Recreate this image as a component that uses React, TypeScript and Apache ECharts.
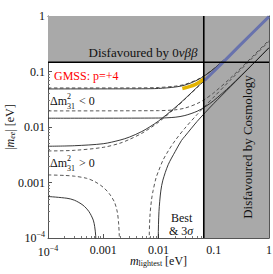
import React, { useEffect, useRef } from 'react';
import * as echarts from 'echarts';

// axis ranges and tick labels
const X_MIN = 1e-4;
const X_MAX = 1;
const Y_MIN = 1e-4;
const Y_MAX = 1;
const TICK_VALUES = [1e-4, 0.001, 0.01, 0.1, 1];
const TICK_LABELS = ['10{sup|−4}', '0.001', '0.01', '0.1', '1'];

// bounds
const BOUND_0NUBB = 0.147;
const BOUND_COSMO = 0.066;

// Δm²31 < 0 (inverted), upper edges
const ioUpperBest: [number, number][] = [[1e-4, 0.0505], [0.005, 0.0507], [0.01, 0.0515], [0.02, 0.0544], [0.03, 0.0586], [0.05, 0.0712], [0.07, 0.0865], [0.1, 0.1122], [0.2, 0.206], [0.5, 0.502], [1, 1.0]];
const ioUpper3s: [number, number][] = [[1e-4, 0.0485], [0.005, 0.0488], [0.01, 0.0495], [0.02, 0.0525], [0.03, 0.0568], [0.05, 0.0698], [0.07, 0.0853], [0.1, 0.1112], [0.2, 0.2055], [0.5, 0.502], [1, 1.0]];
// inverted, lower edges
const ioLowerBest: [number, number][] = [[1e-4, 0.0195], [0.01, 0.0197], [0.02, 0.0204], [0.03, 0.0219], [0.05, 0.0264], [0.07, 0.0319], [0.1, 0.0413], [0.2, 0.0759], [0.5, 0.185], [1, 0.3685]];
const ioLower3s: [number, number][] = [[1e-4, 0.0144], [0.01, 0.0145], [0.02, 0.015], [0.03, 0.0161], [0.05, 0.0192], [0.07, 0.0232], [0.1, 0.0299], [0.2, 0.0549], [0.5, 0.1337], [1, 0.266]];

// Δm²31 > 0 (normal), upper edges
const noUpperBest: [number, number][] = [[1e-4, 0.0037], [3e-4, 0.0038], [0.001, 0.0043], [0.002, 0.0051], [0.003, 0.006], [0.005, 0.0077], [0.007, 0.0095], [0.01, 0.0122], [0.02, 0.0217], [0.03, 0.0316], [0.05, 0.0515], [0.07, 0.0713], [0.1, 0.101], [0.3, 0.3], [1, 1.0]];
const noUpper3s: [number, number][] = [[1e-4, 0.0045], [3e-4, 0.0046], [0.001, 0.005], [0.002, 0.0058], [0.003, 0.0066], [0.005, 0.0083], [0.007, 0.0101], [0.01, 0.0128], [0.02, 0.0224], [0.03, 0.0322], [0.05, 0.052], [0.07, 0.0718], [0.1, 0.1015], [0.3, 0.301], [1, 1.0]];
// normal, lower edges (funnel): left and right branches
const noLowerBestL: [number, number][] = [[1e-4, 0.00137], [2e-4, 0.00134], [3e-4, 0.0013], [5e-4, 0.00119], [7e-4, 0.00104], [0.001, 0.00082], [0.0013, 0.00062], [0.0016, 0.00044], [0.0018, 0.00029], [0.0019, 0.00018], [0.00195, 0.00011], [0.002, 0.00004], [0.00201, 0.000001]];
const noLowerBestR: [number, number][] = [[0.0067, 0.000001], [0.0068, 0.0001], [0.007, 0.00025], [0.0075, 0.0005], [0.008, 0.00072], [0.009, 0.0012], [0.01, 0.0016], [0.012, 0.0025], [0.015, 0.0037], [0.02, 0.0057], [0.03, 0.0095], [0.05, 0.0168], [0.07, 0.024], [0.1, 0.0346], [0.2, 0.07], [0.5, 0.175], [1, 0.35]];
const noLower3sL: [number, number][] = [[1e-4, 0.00056], [2.2e-4, 0.00052], [3e-4, 0.00048], [4.3e-4, 0.00039], [5.5e-4, 0.0003], [6.6e-4, 0.00021], [7e-4, 0.00016], [7.3e-4, 0.00011], [7.4e-4, 0.00006], [7.45e-4, 0.000001]];
const noLower3sR: [number, number][] = [[0.0098, 0.000001], [0.0099, 0.0001], [0.0102, 0.0003], [0.011, 0.0007], [0.012, 0.0011], [0.015, 0.0021], [0.02, 0.0036], [0.026, 0.0057], [0.03, 0.0068], [0.05, 0.0126], [0.07, 0.0182], [0.1, 0.0265], [0.2, 0.053], [0.5, 0.133], [1, 0.269]];

// GMSS p=+4 prediction
const gmssAllowed: [number, number][] = [[0.027, 0.0495], [0.035, 0.0528], [0.046, 0.0578], [0.058, 0.0665], [0.072, 0.077]];
const gmssExcluded: [number, number][] = [[0.068, 0.069], [0.1, 0.1], [0.3, 0.298], [1, 0.975]];

const SERIF = "'Liberation Serif', 'Times New Roman', serif";

export default function App() {
  const ref = useRef<HTMLDivElement>(null);
  useEffect(() => {
    if (!ref.current) return;
    const chart = echarts.init(ref.current, undefined, { renderer: 'svg' });
    const solid = (data: [number, number][], name: string) => ({
      type: 'line', name, data, showSymbol: false, symbol: 'none', smooth: 0.3, z: 3,
      lineStyle: { color: '#222', width: 0.9 }, silent: true,
    });
    const dashed = (data: [number, number][], name: string) => ({
      type: 'line', name, data, showSymbol: false, symbol: 'none', smooth: 0.3, z: 3,
      lineStyle: { color: '#444', width: 0.9, type: [3.5, 2.5] }, silent: true,
    });
    const tickFmt = (v: number) => {
      const i = TICK_VALUES.findIndex((t) => Math.abs(Math.log10(t) - Math.log10(v)) < 1e-6);
      return i >= 0 ? TICK_LABELS[i] : '';
    };
    const axisCommon = {
      type: 'log', logBase: 10,
      axisLine: { show: true, lineStyle: { color: '#555', width: 1 } },
      axisTick: { show: true, inside: true, length: 4, lineStyle: { color: '#555' } },
      minorTick: { show: true, splitNumber: 9, length: 2, lineStyle: { color: '#777' } },
      splitLine: { show: false },
    };
    const labelStyle = {
      fontFamily: SERIF, fontSize: 12, color: '#111',
      rich: { sup: { fontSize: 8, fontFamily: SERIF, color: '#111', padding: [0, 0, 7, 0] } },
    };
    chart.setOption({
      animation: false,
      grid: { left: 48, right: 4, top: 16, bottom: 36, containLabel: false, outerBoundsMode: 'none' },
      xAxis: [
        {
          ...axisCommon, min: X_MIN, max: X_MAX, position: 'bottom',
          axisLabel: { ...labelStyle, formatter: tickFmt, margin: 6 },
          name: '{i|m}{sub|lightest} [eV]', nameLocation: 'middle', nameGap: 16, nameMoveOverlap: false,
          nameTextStyle: {
            fontFamily: SERIF, fontSize: 12, color: '#111',
            rich: {
              i: { fontFamily: SERIF, fontStyle: 'italic', fontSize: 12, color: '#111' },
              sub: { fontFamily: SERIF, fontSize: 8, color: '#111', padding: [5, 0, 0, 0] },
            },
          },
        },
        { ...axisCommon, min: X_MIN, max: X_MAX, position: 'top', axisLabel: { show: false } },
      ],
      yAxis: [
        {
          ...axisCommon, min: Y_MIN, max: Y_MAX, position: 'left',
          axisLabel: { ...labelStyle, formatter: tickFmt, margin: 3 },
          name: '|{i|m}{sub|ee}| [eV]', nameLocation: 'middle', nameGap: 32, nameRotate: 90, nameMoveOverlap: false,
          nameTextStyle: {
            fontFamily: SERIF, fontSize: 12, color: '#111',
            rich: {
              i: { fontFamily: SERIF, fontStyle: 'italic', fontSize: 12, color: '#111' },
              sub: { fontFamily: SERIF, fontStyle: 'italic', fontSize: 8, color: '#111', padding: [5, 0, 0, 0] },
            },
          },
        },
        { ...axisCommon, min: Y_MIN, max: Y_MAX, position: 'right', axisLabel: { show: false } },
      ],
      series: [
        {
          type: 'line', data: [], z: 1, silent: true,
          markArea: {
            silent: true,
            itemStyle: { color: '#a9a9a9', opacity: 1 },
            data: [
              [{ coord: [X_MIN, BOUND_0NUBB] }, { coord: [X_MAX, Y_MAX] }],
              [{ coord: [BOUND_COSMO, Y_MIN] }, { coord: [X_MAX, Y_MAX] }],
            ],
          },
        },
        dashed(ioUpperBest, 'ioUB'),
        solid(ioUpper3s, 'ioU3'),
        dashed(ioLowerBest, 'ioLB'),
        solid(ioLower3s, 'ioL3'),
        dashed(noUpperBest, 'noUB'),
        solid(noUpper3s, 'noU3'),
        dashed(noLowerBestL, 'noLBL'),
        dashed(noLowerBestR, 'noLBR'),
        solid(noLower3sL, 'noL3L'),
        solid(noLower3sR, 'noL3R'),
        {
          type: 'line', data: gmssAllowed, showSymbol: false, symbol: 'none', smooth: 0.3, z: 4, silent: true,
          lineStyle: { color: '#e3b300', width: 3.5 },
        },
        {
          type: 'line', data: gmssExcluded, showSymbol: false, symbol: 'none', smooth: 0.3, z: 4, silent: true,
          lineStyle: { color: '#6872ad', width: 3 },
        },
        {
          type: 'line', data: [[X_MIN, BOUND_0NUBB], [X_MAX, BOUND_0NUBB]], showSymbol: false, symbol: 'none', z: 5, silent: true,
          lineStyle: { color: '#000', width: 1.6 },
        },
        {
          type: 'line', data: [[BOUND_COSMO, Y_MIN], [BOUND_COSMO, Y_MAX]], showSymbol: false, symbol: 'none', z: 5, silent: true,
          lineStyle: { color: '#000', width: 1.6 },
        },
      ],
      graphic: [
        {
          type: 'text', x: 143, y: 52, z: 10,
          style: {
            text: 'Disfavoured by 0{i|νββ}', fontFamily: SERIF, fontSize: 13, fill: '#111',
            align: 'center', verticalAlign: 'middle',
            rich: { i: { fontFamily: SERIF, fontStyle: 'italic', fontSize: 13, fill: '#111' } },
          },
        },
        {
          type: 'text', x: 54, y: 76, z: 10,
          style: { text: 'GMSS: p=+4', fontFamily: SERIF, fontSize: 12, fill: '#ff0000', align: 'left', verticalAlign: 'middle' },
        },
        {
          type: 'group', x: 50, y: 101, z: 10,
          children: [
            { type: 'text', x: 0, y: 0, style: { text: 'Δm', fontFamily: SERIF, fontSize: 12, fill: '#111', verticalAlign: 'middle' } },
            { type: 'text', x: 17, y: -5, style: { text: '2', fontFamily: SERIF, fontSize: 8, fill: '#111', verticalAlign: 'middle' } },
            { type: 'text', x: 17, y: 5, style: { text: '31', fontFamily: SERIF, fontSize: 8, fill: '#111', verticalAlign: 'middle' } },
            { type: 'text', x: 29, y: 0, style: { text: '< 0', fontFamily: SERIF, fontSize: 12, fill: '#111', verticalAlign: 'middle' } },
          ],
        },
        {
          type: 'group', x: 50, y: 163, z: 10,
          children: [
            { type: 'text', x: 0, y: 0, style: { text: 'Δm', fontFamily: SERIF, fontSize: 12, fill: '#111', verticalAlign: 'middle' } },
            { type: 'text', x: 17, y: -5, style: { text: '2', fontFamily: SERIF, fontSize: 8, fill: '#111', verticalAlign: 'middle' } },
            { type: 'text', x: 17, y: 5, style: { text: '31', fontFamily: SERIF, fontSize: 8, fill: '#111', verticalAlign: 'middle' } },
            { type: 'text', x: 29, y: 0, style: { text: '> 0', fontFamily: SERIF, fontSize: 12, fill: '#111', verticalAlign: 'middle' } },
          ],
        },
        {
          type: 'text', x: 171, y: 218, z: 10,
          style: { text: 'Best', fontFamily: SERIF, fontSize: 12, fill: '#111', align: 'left', verticalAlign: 'middle' },
        },
        {
          type: 'text', x: 169, y: 231, z: 10,
          style: {
            text: '& 3{i|σ}', fontFamily: SERIF, fontSize: 12, fill: '#111', align: 'left', verticalAlign: 'middle',
            rich: { i: { fontFamily: SERIF, fontStyle: 'italic', fontSize: 12, fill: '#111' } },
          },
        },
        {
          type: 'text', x: 247, y: 147, rotation: Math.PI / 2, z: 10,
          style: { text: 'Disfavoured by Cosmology', fontFamily: SERIF, fontSize: 13, fill: '#111', align: 'center', verticalAlign: 'middle' },
        },
      ],
    });
    return () => chart.dispose();
  }, []);
  return <div ref={ref} style={{ width: 273, height: 274, position: 'absolute', left: 0, top: 0 }} />;
}
